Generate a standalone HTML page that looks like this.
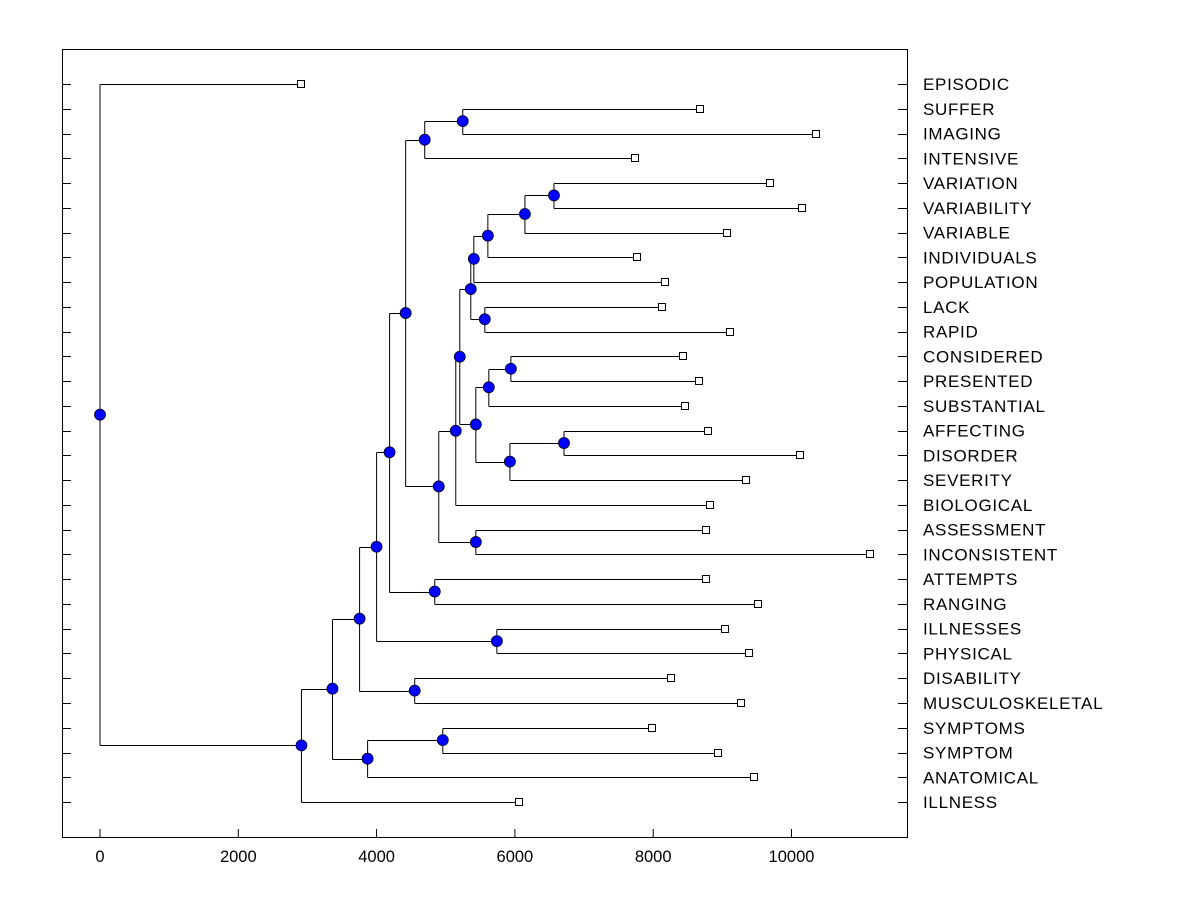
<!DOCTYPE html>
<html><head><meta charset="utf-8"><style>
html,body{margin:0;padding:0;background:#fff;}
svg{display:block;font-family:"Liberation Sans",Arial,sans-serif;}
</style></head><body>
<svg id="chart" width="1200" height="900">
<rect x="62.5" y="49.5" width="845" height="788" fill="none" stroke="#000" stroke-width="1"/>
</svg>
<script>
const labels=["EPISODIC","SUFFER","IMAGING","INTENSIVE","VARIATION","VARIABILITY","VARIABLE","INDIVIDUALS","POPULATION","LACK","RAPID","CONSIDERED","PRESENTED","SUBSTANTIAL","AFFECTING","DISORDER","SEVERITY","BIOLOGICAL","ASSESSMENT","INCONSISTENT","ATTEMPTS","RANGING","ILLNESSES","PHYSICAL","DISABILITY","MUSCULOSKELETAL","SYMPTOMS","SYMPTOM","ANATOMICAL","ILLNESS"];
const leafValues=[2913,8681,10348,7739,9696,10159,9072,7768,8174,8130,9116,8435,8667,8464,8797,10116,9348,8826,8768,11130,8768,9522,9043,9391,8261,9275,7986,8942,9464,6058];
const mergeLeft=[4,30,31,32,9,33,11,36,14,38,37,35,41,18,42,1,45,46,20,47,22,49,24,51,26,54,53,56,0];
const mergeRight=[5,6,7,8,10,34,12,13,15,16,39,40,17,19,43,2,3,44,21,48,23,50,25,52,27,28,55,29,57];
const mergeHeights=[6565,6145,5609,5406,5565,5362,5942,5623,6710,5928,5435,5203,5145,5435,4899,5246,4696,4420,4841,4188,5739,4000,4551,3754,4957,3870,3362,2913,0];
const xTicks=[0,2000,4000,6000,8000,10000];

const svg=document.getElementById('chart');
const NS='http://www.w3.org/2000/svg';
const xs=v=>100+v*0.06915;
const ys=i=>84+i*24.76;
function mk(t,a){const e=document.createElementNS(NS,t);for(const k in a)e.setAttribute(k,a[k]);svg.appendChild(e);return e;}

xTicks.forEach(v=>{
  const l=mk('line',{x1:xs(v),x2:xs(v),y1:837,y2:829,stroke:'#000'});
  
  
  const t=mk('text',{x:xs(v),y:862,'text-anchor':'middle','font-size':'16.5'});
  t.textContent=v;
  
  
});
labels.forEach((s,i)=>{
  const y=Math.round(ys(i))+0.5;
  const a=mk('line',{x1:62,x2:71,y1:y,y2:y,stroke:'#000'});
  
  
  const b=mk('line',{x1:898,x2:907,y1:y,y2:y,stroke:'#000'});
  
  
  const t=mk('text',{x:923,y:ys(i)+6,'font-size':'17','letter-spacing':'0.7'});
  t.textContent=s;
  
  
});

const n=labels.length;
const nodeX=[],nodeY=[];
leafValues.forEach((v,i)=>{nodeX[i]=xs(v);nodeY[i]=ys(i);});
const lines=[],circles=[];
mergeHeights.forEach((h,k)=>{
  const id=n+k,a=mergeLeft[k],b=mergeRight[k],x=xs(h);
  nodeX[id]=x;nodeY[id]=(nodeY[a]+nodeY[b])/2;
  lines.push([x,nodeY[a],x,nodeY[b]]);
  lines.push([x,nodeY[a],nodeX[a],nodeY[a]]);
  lines.push([x,nodeY[b],nodeX[b],nodeY[b]]);
  circles.push(id);
});
lines.forEach(p=>{
  const l=mk('line',{x1:p[0],y1:Math.round(p[1])+0.5,x2:p[2],y2:Math.round(p[3])+0.5,stroke:'#000','stroke-width':1});
  
  
});
leafValues.forEach((v,i)=>{
  const r=mk('rect',{x:Math.round(xs(v))-3.5,y:Math.round(ys(i))-3.5,width:7,height:7,fill:'#fff',stroke:'#000'});
  
  
});
circles.forEach(id=>{
  const c=mk('circle',{cx:nodeX[id],cy:nodeY[id],r:5.5,fill:'#0000ff',stroke:'#000020','stroke-width':0.8});
  
  
});
</script>
</body></html>
